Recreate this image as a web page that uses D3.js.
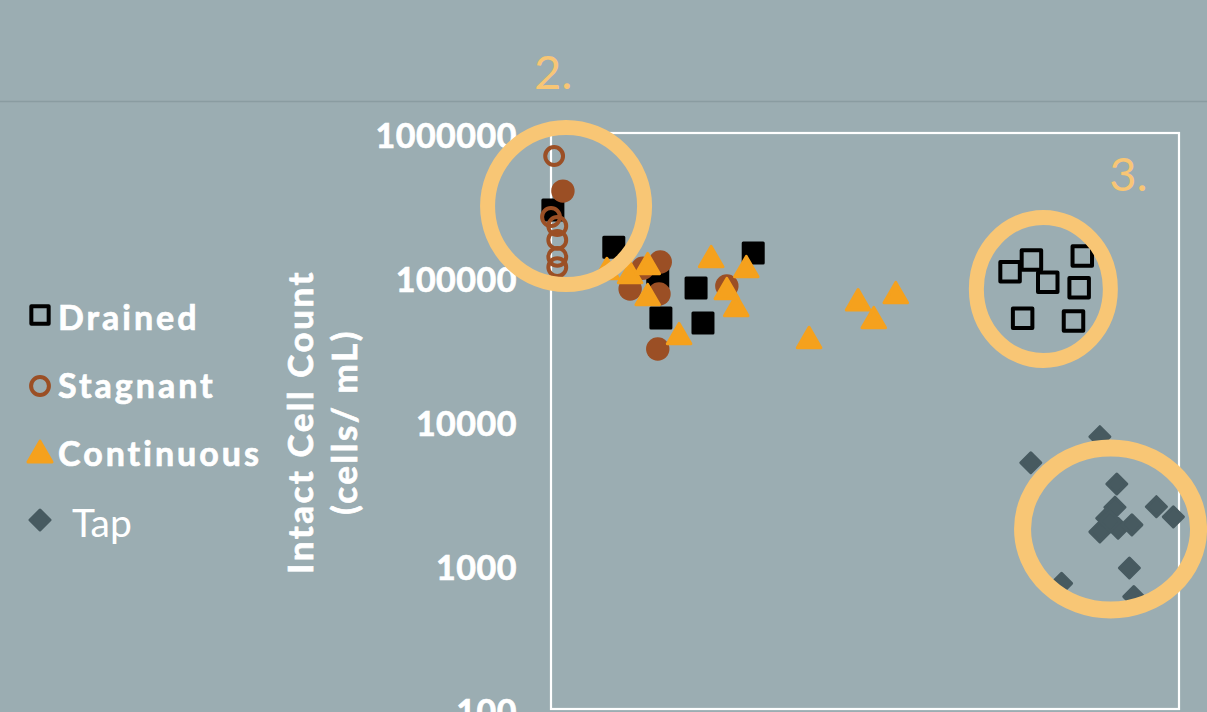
<!DOCTYPE html>
<html><head><meta charset="utf-8">
<script src="https://cdn.jsdelivr.net/npm/d3@7"></script>
<style>html,body{margin:0;padding:0;background:#9badb2;overflow:hidden}svg{display:block}</style>
</head><body><svg id="c" width="1207" height="712"></svg>
<script>
// ---- data ----
const yTickValues = [100, 1000, 10000, 100000, 1000000];
const yTickLabels = ["100", "1000", "10000", "100000", "1000000"];
const legendNames = ["Drained", "Stagnant", "Continuous", "Tap"];
const yTitleLines = ["Intact Cell Count", "(cells/ mL)"];
const annotationLabels = ["2.", "3."];
// [x (arbitrary position units 0-100), intact cells per mL]
const drainedFilled = [[0.3,292000],[10.0,161000],[17.0,98400],[23.1,83900],[17.5,51900],[24.2,47900],[32.2,146800]];
const drainedHollow = [[73.1,108900],[76.5,131300],[79.1,91800],[84.6,139900],[84.1,84300],[75.1,51700],[83.2,49500]];
const stagnantFilled = [[1.9,395000],[17.4,127000],[14.6,115000],[12.6,82600],[17.2,76200],[17.0,31600],[28.0,86600]];
const stagnantHollow = [[0.5,692000],[0,261000],[1,226000],[1,181000],[1,138000],[1,117000]];
const continuous = [[8.9,108400],[12.6,101600],[15.4,117300],[15.4,71500],[20.4,38300],[25.5,131300],[31.1,111900],[28.0,78700],[29.5,60000],[41.1,36000],[48.9,65900],[51.4,49500],[54.9,73800]];
const tap = [[87.4,7780],[76.4,5130],[90.1,3650],[89.8,2520],[88.5,2110],[87.4,1700],[90.3,1800],[92.5,1900],[89.0,2000],[96.4,2540],[99.1,2160],[92.1,953],[81.3,746],[92.8,603]];
// highlighted groups (centre in data units)
const ringCenters = [[2.4,311000],[78.4,82600],[89.1,1778]];

// ---- styles ----
const C = {drained:"#000000", stagnant:"#9b4f25", continuous:"#f5a11d", tap:"#475a60", ring:"#f8c675", text:"#ffffff"};
const FONT = "Lato, 'Open Sans', sans-serif";

const svg = d3.select("#c");
const x = d3.scaleLinear().domain([0, 100]).range([551, 1179]);
const y = d3.scaleLog().domain([100, 1000000]).range([709, 133]);

// header rule
svg.append("line").attr("x1",0).attr("x2",1207).attr("y1",101.5).attr("y2",101.5)
  .attr("stroke","#8a9ca1").attr("stroke-width",1.5);

// plot frame
svg.append("rect").attr("x",x(0)).attr("y",y(1000000)).attr("width",x(100)-x(0)).attr("height",y(100)-y(1000000))
  .attr("fill","none").attr("stroke","#ffffff").attr("stroke-width",2.2);

// y axis labels (via d3 axis)
const yAxis = d3.axisLeft(y).tickValues(yTickValues).tickFormat((d,i)=>yTickLabels[i]).tickSize(0).tickPadding(34);
const ga = svg.append("g").attr("transform",`translate(${x(0)},0)`).call(yAxis);
ga.select(".domain").remove();
ga.selectAll("text").attr("fill",C.text).attr("stroke",C.text).attr("stroke-width",0.7)
  .attr("font-family",FONT).attr("font-weight",700)
  .attr("font-size",34).attr("letter-spacing","0.5px").attr("dy","0.42em");

// y title
const yt = svg.append("g").attr("transform","translate(313,422) rotate(-90)");
yTitleLines.forEach((t,i)=>{
  yt.append("text").attr("x",0).attr("y",i*44).attr("text-anchor","middle")
    .attr("fill",C.text).attr("stroke",C.text).attr("stroke-width",0.7)
    .attr("font-family",FONT).attr("font-weight",700).attr("font-size",35)
    .attr("letter-spacing","2.5px").text(t);
});

function sym(type,size){return d3.symbol().type(type).size(size)();}
const plot = svg.append("g");

function draw(data, path, fill, stroke, sw, rot){
  plot.append("g").selectAll("path").data(data).join("path")
    .attr("d", path)
    .attr("transform", d=>`translate(${x(d[0])},${y(d[1])})${rot?` rotate(${rot})`:""}`)
    .attr("fill", fill).attr("stroke", stroke).attr("stroke-width", sw).attr("stroke-linejoin","round");
}
draw(drainedFilled, sym(d3.symbolSquare,400), C.drained, C.drained, 3);
draw(drainedHollow, sym(d3.symbolSquare,380), "none", C.drained, 4);
draw(stagnantFilled, sym(d3.symbolCircle,430), C.stagnant, "none", 0);
draw(stagnantHollow, sym(d3.symbolCircle,250), "none", C.stagnant, 4);
draw(continuous, sym(d3.symbolTriangle,240), C.continuous, C.continuous, 3);
draw(tap, sym(d3.symbolSquare,200), C.tap, C.tap, 3, 45);

// highlight rings
const ringR = [[78.5,78.5],[67,71.5],[88,81]];
const ringW = [15,15,17];
svg.append("g").selectAll("ellipse").data(ringCenters).join("ellipse")
  .attr("cx",d=>x(d[0])).attr("cy",d=>y(d[1]))
  .attr("rx",(d,i)=>ringR[i][0]).attr("ry",(d,i)=>ringR[i][1])
  .attr("fill","none").attr("stroke",C.ring).attr("stroke-width",(d,i)=>ringW[i]);

// ring labels
const labelOffsets = [[-13,-117],[85,-98]];
annotationLabels.forEach((t,i)=>{
  const c = ringCenters[i];
  svg.append("text").attr("x",x(c[0])+labelOffsets[i][0]).attr("y",y(c[1])+labelOffsets[i][1])
    .attr("text-anchor","middle").attr("fill",C.ring).attr("font-family",FONT).attr("font-size",47)
    .text(t);
});

// legend
const lg = svg.append("g");
const legendRows = [
  {name:legendNames[0], path:sym(d3.symbolSquare,300), fill:"none", stroke:C.drained, sw:4, rot:0, cy:315, ty:330, tx:58, bold:true, fs:34},
  {name:legendNames[1], path:sym(d3.symbolCircle,250), fill:"none", stroke:C.stagnant, sw:4, rot:0, cy:386, ty:398, tx:58, bold:true, fs:34},
  {name:legendNames[2], path:sym(d3.symbolTriangle,250), fill:C.continuous, stroke:C.continuous, sw:3, rot:0, cy:455, ty:466, tx:58, bold:true, fs:34},
  {name:legendNames[3], path:sym(d3.symbolSquare,200), fill:C.tap, stroke:C.tap, sw:3, rot:45, cy:520, ty:537, tx:72, bold:false, fs:39}
];
legendRows.forEach(r=>{
  lg.append("path").attr("d",r.path).attr("transform",`translate(40,${r.cy}) rotate(${r.rot})`)
    .attr("fill",r.fill).attr("stroke",r.stroke).attr("stroke-width",r.sw).attr("stroke-linejoin","round");
  lg.append("text").attr("x",r.tx).attr("y",r.ty).attr("fill",C.text)
    .attr("stroke",r.bold?C.text:"none").attr("stroke-width",0.7).attr("font-family",FONT)
    .attr("font-weight",r.bold?700:400).attr("font-size",r.fs).attr("letter-spacing",r.bold?"3px":"0px").text(r.name);
});
</script></body></html>
